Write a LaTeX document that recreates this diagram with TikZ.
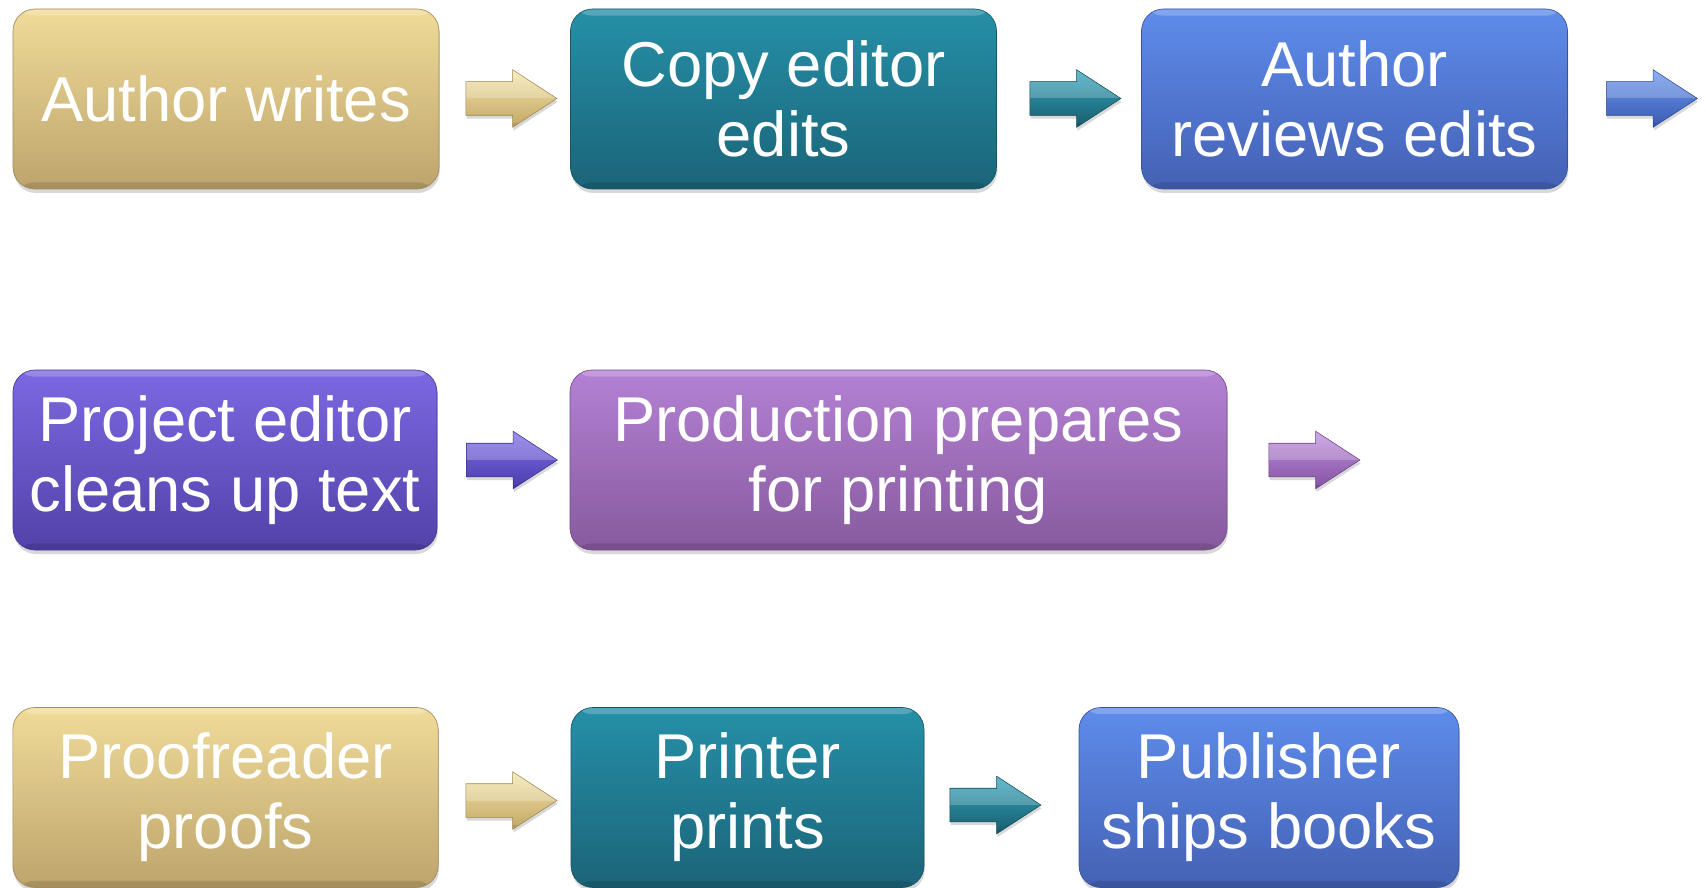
\documentclass[tikz,border=0pt]{standalone}
\usepackage{fontspec}
\setmainfont{Liberation Sans}
\usetikzlibrary{shapes.arrows,shadows}
\definecolor{goldT}{HTML}{F0DB99}
\definecolor{goldB}{HTML}{BDA46C}
\definecolor{tealT}{HTML}{2590A8}
\definecolor{tealB}{HTML}{1B6478}
\definecolor{blueT}{HTML}{5E8CEB}
\definecolor{blueB}{HTML}{4461B4}
\definecolor{indT}{HTML}{7C68E2}
\definecolor{indB}{HTML}{5242A8}
\definecolor{purT}{HTML}{B481D4}
\definecolor{purB}{HTML}{875A9E}
\definecolor{agoldT}{HTML}{F5E6AE}
\definecolor{agoldB}{HTML}{C2A764}
\definecolor{atealT}{HTML}{35A6BE}
\definecolor{atealB}{HTML}{185C6C}
\definecolor{ablueT}{HTML}{6A96EE}
\definecolor{ablueB}{HTML}{3C5BB2}
\definecolor{aindT}{HTML}{8070EA}
\definecolor{aindB}{HTML}{4A3CAA}
\definecolor{apurT}{HTML}{C090DE}
\definecolor{apurB}{HTML}{8452A2}
\tikzset{
  stepbox/.style={rounded corners=16.5pt, minimum height=135pt, inner sep=0pt,
    align=center, text=white, font=\fontsize{47.5}{52.5}\selectfont,
    drop shadow={opacity=0.3, shadow xshift=0.6pt, shadow yshift=-3pt},
    path picture={
      \fill[white,opacity=0.22] (path picture bounding box.north west) rectangle ([yshift=-5pt]path picture bounding box.north east);
      \fill[black,opacity=0.12] ([yshift=5pt]path picture bounding box.south west) rectangle (path picture bounding box.south east);
    }},
  boxgold/.style={stepbox, top color=goldT, bottom color=goldB, draw=goldB!85!black, line width=0.5pt},
  boxteal/.style={stepbox, top color=tealT, bottom color=tealB, draw=tealB!85!black, line width=0.5pt},
  boxblue/.style={stepbox, top color=blueT, bottom color=blueB, draw=blueB!85!black, line width=0.5pt},
  boxind/.style={stepbox, top color=indT, bottom color=indB, draw=indB!85!black, line width=0.5pt},
  boxpur/.style={stepbox, top color=purT, bottom color=purB, draw=purB!85!black, line width=0.5pt},
  blockarrow/.style={single arrow, single arrow head extend=9pt, single arrow tip angle=66,
    minimum height=68.25pt, minimum width=42.75pt, inner xsep=0pt, inner ysep=12.375pt, line width=0.4pt,
    drop shadow={opacity=0.3, shadow xshift=0.6pt, shadow yshift=-2.5pt},
    path picture={
      \fill[white,opacity=0.22] (path picture bounding box.west) rectangle (path picture bounding box.north east);
      \fill[black,opacity=0.1] ([yshift=3pt]path picture bounding box.south west) rectangle (path picture bounding box.south east);
    }},
  arrgold/.style={blockarrow, top color=agoldT, bottom color=agoldB, draw=agoldB!80!black},
  arrteal/.style={blockarrow, top color=atealT, bottom color=atealB, draw=atealB!80!black},
  arrblue/.style={blockarrow, top color=ablueT, bottom color=ablueB, draw=ablueB!80!black},
  arrind/.style={blockarrow, top color=aindT, bottom color=aindB, draw=aindB!80!black},
  arrpur/.style={blockarrow, top color=apurT, bottom color=apurB, draw=apurB!80!black},
}
\begin{document}
\begin{tikzpicture}[x=0.75pt, y=-0.75pt]
\path[use as bounding box, fill=white] (0,0) rectangle (1706,888);
% row 1
\node[boxgold, minimum width=319.5pt] (b1) at (226,99) {Author writes};
\node[arrgold] (a1) at (498.5,98.5) {};
\node[boxteal, minimum width=319.5pt] (b2) at (783.5,99) {Copy editor\\edits};
\node[arrteal] (a2) at (1062.5,98.5) {};
\node[boxblue, minimum width=319.5pt] (b3) at (1354.5,99) {Author\\reviews edits};
\node[arrblue] (a3) at (1639,98.5) {};
% row 2
\node[boxind, minimum width=318pt] (b4) at (225,460) {Project editor\\cleans up text};
\node[arrind] (a4) at (499,460) {};
\node[boxpur, minimum width=492.75pt] (b5) at (898.5,460) {Production prepares\\for printing};
\node[arrpur] (a5) at (1301.5,460) {};
% row 3
\node[boxgold, minimum width=319pt] (b6) at (225.5,797.5) {Proofreader\\proofs};
\node[arrgold] (a6) at (498.5,800.5) {};
\node[boxteal, minimum width=264.75pt] (b7) at (747.5,797.5) {Printer\\prints};
\node[arrteal] (a7) at (982.5,805) {};
\node[boxblue, minimum width=285pt] (b8) at (1269,797.5) {Publisher\\ships books};
\end{tikzpicture}
\end{document}
